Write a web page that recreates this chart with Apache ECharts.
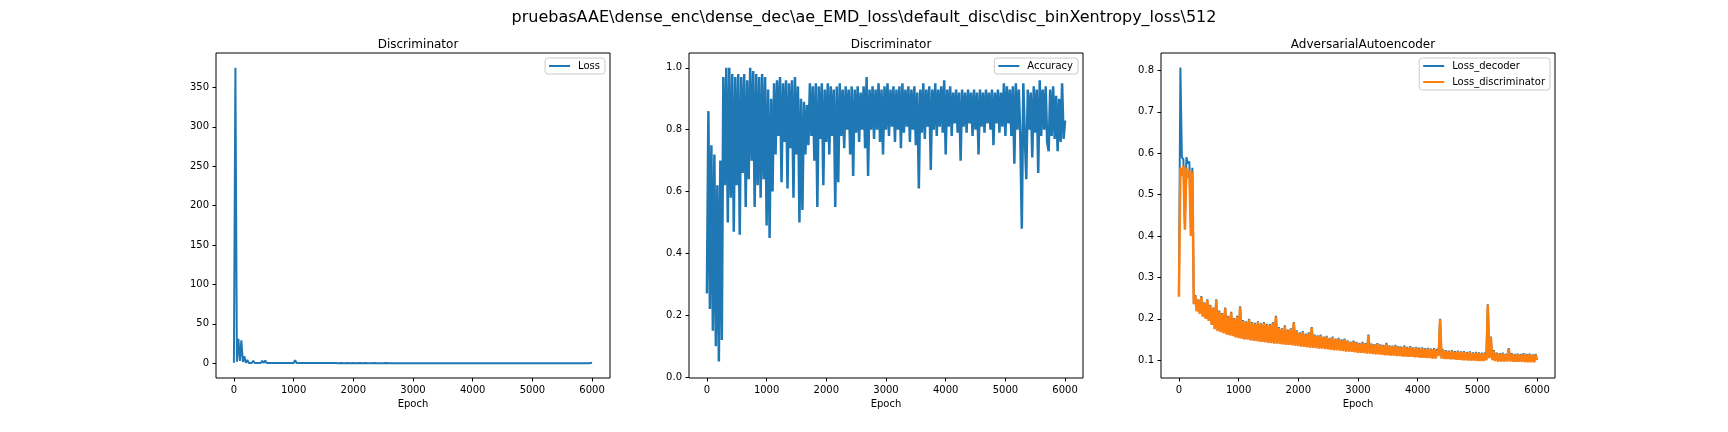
<!DOCTYPE html>
<html>
<head>
<meta charset="utf-8">
<script src="https://cdn.jsdelivr.net/npm/echarts@6.0.0/dist/echarts.min.js"></script>
<style>
  html, body { margin: 0; padding: 0; background: #fff; }
  #chart { width: 1728px; height: 432px; }
</style>
</head>
<body>
<div id="chart"></div>
<script>
// values, one point every 25 epochs (0 .. 6000)
var loss = [
  0.5, 375, 2, 31, 3, 29, 1.5, 9, 0.5, 4,
  0.3, 2.0, 0.4, 3.0, 0.3, 2.5, 0.4, 2.0, 0.3, 3.2,
  0.4, 3.5, 0.3, 1.8, 0.3, 2.2, 0.3, 1.5, 0.3, 1.8,
  0.2, 1.5, 0.3, 1.8, 0.2, 1.4, 0.3, 1.6, 0.2, 2.5,
  0.3, 3.8, 0.3, 2.0, 0.2, 1.4, 0.2, 1.3, 0.2, 1.2,
  0.2, 1.3, 0.2, 1.1, 0.2, 1.2, 0.2, 1.0, 0.2, 1.3,
  0.2, 1.1, 0.2, 2.6, 0.2, 1.2, 0.2, 1.0, 0.2, 1.1,
  0.1, 1.0, 0.2, 1.2, 0.1, 0.9, 0.2, 1.0, 0.1, 1.1,
  0.2, 0.9, 0.1, 1.0, 0.2, 0.9, 0.1, 1.1, 0.2, 0.9,
  0.1, 1.0, 0.1, 0.9, 0.2, 1.0, 0.1, 0.9, 0.1, 1.0,
  0.1, 0.9, 0.2, 1.0, 0.1, 0.9, 0.1, 1.1, 0.1, 0.9,
  0.1, 1.0, 0.1, 0.9, 0.1, 1.0, 0.1, 0.8, 0.1, 1.0,
  0.1, 0.9, 0.1, 1.0, 0.1, 0.8, 0.1, 0.9, 0.1, 1.0,
  0.1, 0.9, 0.1, 0.8, 0.1, 1.0, 0.1, 0.9, 0.1, 0.8,
  0.1, 0.9, 0.1, 1.0, 0.1, 0.8, 0.1, 0.9, 0.1, 0.8,
  0.1, 0.9, 0.1, 0.8, 0.1, 1.0, 0.1, 0.8, 0.1, 0.9,
  0.1, 0.8, 0.1, 0.9, 0.1, 0.8, 0.1, 0.9, 0.1, 0.8,
  0.1, 0.9, 0.1, 0.8, 0.1, 1.0, 0.1, 0.8, 0.1, 0.9,
  0.1, 0.8, 0.1, 0.9, 0.1, 0.8, 0.1, 0.9, 0.1, 0.8,
  0.1, 0.9, 0.1, 0.8, 0.1, 0.9, 0.1, 0.8, 0.1, 0.9,
  0.1, 0.8, 0.1, 0.9, 0.1, 0.8, 0.1, 0.9, 0.1, 0.8,
  0.1, 1.6, 0.1, 0.9, 0.1, 0.8, 0.1, 0.9, 0.1, 0.8,
  0.1, 0.9, 0.1, 0.8, 0.1, 0.9, 0.1, 0.8, 0.1, 0.9,
  0.1, 0.8, 0.1, 0.9, 0.1, 0.8, 0.1, 0.9, 0.1, 0.8,
  0.5
];

var accuracy = [
  0.27, 0.86, 0.22, 0.75, 0.15, 0.72, 0.10, 0.62, 0.05, 0.70,
  0.12, 0.97, 0.62, 1.00, 0.50, 1.00, 0.58, 0.98, 0.47, 0.97,
  0.62, 0.98, 0.46, 0.97, 0.66, 0.98, 0.55, 0.96, 0.64, 1.00,
  0.70, 0.99, 0.55, 0.98, 0.62, 0.97, 0.58, 0.98, 0.64, 0.97,
  0.49, 0.93, 0.45, 0.90, 0.60, 0.95, 0.72, 0.96, 0.78, 0.97,
  0.63, 0.95, 0.76, 0.96, 0.61, 0.95, 0.74, 0.96, 0.58, 0.97,
  0.72, 0.94, 0.50, 0.90, 0.54, 0.89, 0.72, 0.88, 0.75, 0.95,
  0.78, 0.94, 0.70, 0.95, 0.55, 0.94, 0.77, 0.95, 0.62, 0.93,
  0.76, 0.95, 0.72, 0.94, 0.78, 0.93, 0.55, 0.94, 0.63, 0.95,
  0.78, 0.93, 0.74, 0.94, 0.80, 0.93, 0.72, 0.94, 0.65, 0.93,
  0.79, 0.94, 0.76, 0.92, 0.80, 0.94, 0.74, 0.97, 0.65, 0.93,
  0.80, 0.94, 0.77, 0.93, 0.80, 0.95, 0.76, 0.93, 0.72, 0.94,
  0.80, 0.95, 0.78, 0.93, 0.81, 0.94, 0.76, 0.93, 0.80, 0.94,
  0.74, 0.95, 0.79, 0.93, 0.81, 0.94, 0.76, 0.93, 0.80, 0.94,
  0.75, 0.92, 0.61, 0.93, 0.79, 0.95, 0.77, 0.93, 0.81, 0.94,
  0.67, 0.93, 0.80, 0.95, 0.78, 0.93, 0.81, 0.94, 0.79, 0.96,
  0.72, 0.93, 0.81, 0.94, 0.78, 0.92, 0.82, 0.93, 0.79, 0.92,
  0.70, 0.93, 0.81, 0.92, 0.79, 0.93, 0.82, 0.92, 0.78, 0.93,
  0.80, 0.92, 0.72, 0.93, 0.81, 0.92, 0.79, 0.93, 0.82, 0.92,
  0.80, 0.93, 0.75, 0.92, 0.82, 0.93, 0.79, 0.92, 0.81, 0.95,
  0.78, 0.94, 0.82, 0.93, 0.78, 0.94, 0.69, 0.95, 0.80, 0.93,
  0.78, 0.48, 0.95, 0.78, 0.64, 0.93, 0.80, 0.92, 0.71, 0.94,
  0.79, 0.93, 0.66, 0.96, 0.78, 0.93, 0.80, 0.94, 0.76, 0.73,
  0.93, 0.78, 0.94, 0.77, 0.91, 0.73, 0.90, 0.76, 0.95, 0.77,
  0.83
];

var lossDecoder = [
  0.260, 0.807, 0.590, 0.585, 0.430, 0.590, 0.575, 0.580, 0.420, 0.565,
  0.236, 0.257, 0.219, 0.247, 0.213, 0.255, 0.206, 0.240, 0.201, 0.247,
  0.196, 0.234, 0.186, 0.227, 0.176, 0.247, 0.171, 0.220, 0.169, 0.214,
  0.166, 0.227, 0.163, 0.207, 0.161, 0.217, 0.159, 0.202, 0.156, 0.207,
  0.154, 0.230, 0.153, 0.197, 0.151, 0.194, 0.151, 0.200, 0.149, 0.192,
  0.148, 0.190, 0.147, 0.194, 0.146, 0.189, 0.145, 0.192, 0.144, 0.188,
  0.143, 0.187, 0.142, 0.192, 0.141, 0.207, 0.141, 0.180, 0.140, 0.177,
  0.139, 0.184, 0.138, 0.174, 0.138, 0.177, 0.137, 0.192, 0.136, 0.172,
  0.135, 0.167, 0.134, 0.170, 0.133, 0.164, 0.132, 0.167, 0.131, 0.180,
  0.131, 0.162, 0.130, 0.160, 0.129, 0.162, 0.129, 0.157, 0.128, 0.159,
  0.127, 0.154, 0.126, 0.157, 0.125, 0.152, 0.125, 0.154, 0.124, 0.150,
  0.123, 0.152, 0.122, 0.148, 0.122, 0.145, 0.121, 0.147, 0.120, 0.144,
  0.119, 0.142, 0.119, 0.144, 0.118, 0.141, 0.117, 0.162, 0.117, 0.140,
  0.116, 0.139, 0.115, 0.141, 0.115, 0.138, 0.114, 0.137, 0.113, 0.142,
  0.113, 0.136, 0.112, 0.135, 0.112, 0.137, 0.111, 0.134, 0.111, 0.133,
  0.110, 0.136, 0.110, 0.132, 0.109, 0.134, 0.109, 0.131, 0.108, 0.132,
  0.108, 0.130, 0.107, 0.131, 0.107, 0.129, 0.106, 0.130, 0.106, 0.128,
  0.105, 0.129, 0.105, 0.127, 0.111, 0.200, 0.105, 0.126, 0.104, 0.124,
  0.104, 0.123, 0.103, 0.124, 0.103, 0.122, 0.102, 0.123, 0.102, 0.121,
  0.101, 0.122, 0.101, 0.120, 0.100, 0.121, 0.100, 0.119, 0.100, 0.120,
  0.099, 0.119, 0.099, 0.118, 0.099, 0.119, 0.101, 0.235, 0.106, 0.157,
  0.101, 0.124, 0.099, 0.118, 0.098, 0.117, 0.098, 0.118, 0.098, 0.116,
  0.098, 0.129, 0.098, 0.117, 0.097, 0.115, 0.097, 0.116, 0.097, 0.115,
  0.097, 0.117, 0.096, 0.115, 0.096, 0.116, 0.096, 0.114, 0.096, 0.115,
  0.101
];

var lossDiscriminator = [
  0.253, 0.565, 0.545, 0.570, 0.415, 0.565, 0.540, 0.560, 0.400, 0.555,
  0.235, 0.255, 0.218, 0.245, 0.212, 0.253, 0.205, 0.238, 0.200, 0.245,
  0.195, 0.232, 0.185, 0.225, 0.175, 0.245, 0.170, 0.218, 0.168, 0.212,
  0.165, 0.225, 0.162, 0.205, 0.160, 0.215, 0.158, 0.200, 0.155, 0.205,
  0.153, 0.228, 0.152, 0.195, 0.150, 0.192, 0.150, 0.198, 0.148, 0.190,
  0.147, 0.188, 0.146, 0.192, 0.145, 0.187, 0.144, 0.190, 0.143, 0.186,
  0.142, 0.185, 0.141, 0.190, 0.140, 0.205, 0.140, 0.178, 0.139, 0.175,
  0.138, 0.182, 0.137, 0.172, 0.137, 0.175, 0.136, 0.190, 0.135, 0.170,
  0.134, 0.165, 0.133, 0.168, 0.132, 0.162, 0.131, 0.165, 0.130, 0.178,
  0.130, 0.160, 0.129, 0.158, 0.128, 0.160, 0.128, 0.155, 0.127, 0.157,
  0.126, 0.152, 0.125, 0.155, 0.124, 0.150, 0.124, 0.152, 0.123, 0.148,
  0.122, 0.150, 0.121, 0.146, 0.121, 0.143, 0.120, 0.145, 0.119, 0.142,
  0.118, 0.140, 0.118, 0.142, 0.117, 0.139, 0.116, 0.160, 0.116, 0.138,
  0.115, 0.137, 0.114, 0.139, 0.114, 0.136, 0.113, 0.135, 0.112, 0.140,
  0.112, 0.134, 0.111, 0.133, 0.111, 0.135, 0.110, 0.132, 0.110, 0.131,
  0.109, 0.134, 0.109, 0.130, 0.108, 0.132, 0.108, 0.129, 0.107, 0.130,
  0.107, 0.128, 0.106, 0.129, 0.106, 0.127, 0.105, 0.128, 0.105, 0.126,
  0.104, 0.127, 0.104, 0.125, 0.110, 0.198, 0.104, 0.124, 0.103, 0.122,
  0.103, 0.121, 0.102, 0.122, 0.102, 0.120, 0.101, 0.121, 0.101, 0.119,
  0.100, 0.120, 0.100, 0.118, 0.099, 0.119, 0.099, 0.117, 0.099, 0.118,
  0.098, 0.117, 0.098, 0.116, 0.098, 0.117, 0.100, 0.233, 0.105, 0.155,
  0.100, 0.122, 0.098, 0.116, 0.097, 0.115, 0.097, 0.116, 0.097, 0.114,
  0.097, 0.127, 0.097, 0.115, 0.096, 0.113, 0.096, 0.114, 0.096, 0.113,
  0.096, 0.115, 0.095, 0.113, 0.095, 0.114, 0.095, 0.112, 0.095, 0.113,
  0.100
];

var epochTicks = [0, 1000, 2000, 3000, 4000, 5000, 6000];
var lossTicks = [0, 50, 100, 150, 200, 250, 300, 350];
var accTicks = [0.0, 0.2, 0.4, 0.6, 0.8, 1.0];
var aaeTicks = [0.1, 0.2, 0.3, 0.4, 0.5, 0.6, 0.7, 0.8];

var EPOCH_STEP = 25;
var BLUE = '#1f77b4';
var ORANGE = '#ff7f0e';
var FONT = 'DejaVu Sans';

function toPairs(values) {
    return values.map(function (v, i) { return [i * EPOCH_STEP, v]; });
}

var dom = document.getElementById('chart');
var myChart = echarts.init(dom);

var panelLeft = [216, 689, 1161];
var panelWidth = 394;

function makeGrid(left) {
    return {
        left: left, top: 53, width: panelWidth, height: 325,
        show: true, borderColor: '#000', borderWidth: 1,
        backgroundColor: 'transparent', containLabel: false
    };
}

function makeXAxis(idx) {
    return {
        type: 'value', gridIndex: idx,
        min: -300, max: 6300,
        name: 'Epoch', nameLocation: 'middle', nameGap: 21,
        nameTextStyle: { fontSize: 10, color: '#000', fontFamily: FONT },
        axisLine: { show: false, onZero: false },
        axisTick: { show: true, length: 3.5, customValues: epochTicks, lineStyle: { color: '#000' } },
        axisLabel: { customValues: epochTicks, fontSize: 10, color: '#000', fontFamily: FONT, margin: 7,
                     formatter: function (v) { return String(v); } },
        splitLine: { show: false }
    };
}

function makeYAxis(idx, min, max, ticks, fmt) {
    return {
        type: 'value', gridIndex: idx,
        min: min, max: max,
        axisLine: { show: false, onZero: false },
        axisTick: { show: true, length: 3.5, customValues: ticks, lineStyle: { color: '#000' } },
        axisLabel: { customValues: ticks, fontSize: 10, color: '#000', fontFamily: FONT, margin: 7, formatter: fmt },
        splitLine: { show: false }
    };
}

function makeLegend(names, right, orient) {
    return {
        data: names, right: right, top: 58, orient: orient,
        icon: 'rect', itemWidth: 21, itemHeight: 2, itemGap: 6,
        borderColor: '#cccccc', borderWidth: 1, borderRadius: 3,
        padding: [3, 5, 3, 4],
        backgroundColor: 'rgba(255,255,255,0.8)',
        textStyle: { fontSize: 10, color: '#000', fontFamily: FONT, padding: [0, 0, 0, 3] }
    };
}

// the noisy bands need a slightly heavier pen so the zigzag reads as a solid band
function lineSeries(name, values, idx, color, width) {
    return {
        name: name, type: 'line',
        xAxisIndex: idx, yAxisIndex: idx,
        data: toPairs(values),
        symbol: 'none', showSymbol: false,
        lineStyle: { width: width, color: color },
        itemStyle: { color: color },
        emphasis: { disabled: true },
        animation: false
    };
}

var one = function (v) { return v.toFixed(1); };

var option = {
    backgroundColor: '#fff',
    title: [
        {
            text: 'pruebasAAE\\dense_enc\\dense_dec\\ae_EMD_loss\\default_disc\\disc_binXentropy_loss\\512',
            left: 'center', top: 5,
            textStyle: { fontSize: 16, fontWeight: 'normal', color: '#000', fontFamily: FONT }
        },
        { text: 'Discriminator', left: panelLeft[0] + panelWidth / 2, textAlign: 'center', top: 34,
          textStyle: { fontSize: 12, fontWeight: 'normal', color: '#000', fontFamily: FONT } },
        { text: 'Discriminator', left: panelLeft[1] + panelWidth / 2, textAlign: 'center', top: 34,
          textStyle: { fontSize: 12, fontWeight: 'normal', color: '#000', fontFamily: FONT } },
        { text: 'AdversarialAutoencoder', left: panelLeft[2] + panelWidth / 2, textAlign: 'center', top: 34,
          textStyle: { fontSize: 12, fontWeight: 'normal', color: '#000', fontFamily: FONT } }
    ],
    legend: [
        makeLegend(['Loss'], 1123, 'horizontal'),
        makeLegend(['Accuracy'], 650, 'horizontal'),
        makeLegend(['Loss_decoder', 'Loss_discriminator'], 178, 'vertical')
    ],
    tooltip: { show: false },
    grid: panelLeft.map(makeGrid),
    xAxis: [makeXAxis(0), makeXAxis(1), makeXAxis(2)],
    yAxis: [
        makeYAxis(0, -18.75, 393.75, lossTicks, function (v) { return String(v); }),
        makeYAxis(1, -0.003, 1.048, accTicks, one),
        makeYAxis(2, 0.057, 0.842, aaeTicks, one)
    ],
    series: [
        lineSeries('Loss', loss, 0, BLUE, 2),
        lineSeries('Accuracy', accuracy, 1, BLUE, 2.5),
        lineSeries('Loss_decoder', lossDecoder, 2, BLUE, 2),
        lineSeries('Loss_discriminator', lossDiscriminator, 2, ORANGE, 2.5)
    ]
};

if (option && typeof option === "object") {
    myChart.setOption(option, true);
}

window.addEventListener("resize", function () {
    myChart.resize();
});
</script>
</body>
</html>
